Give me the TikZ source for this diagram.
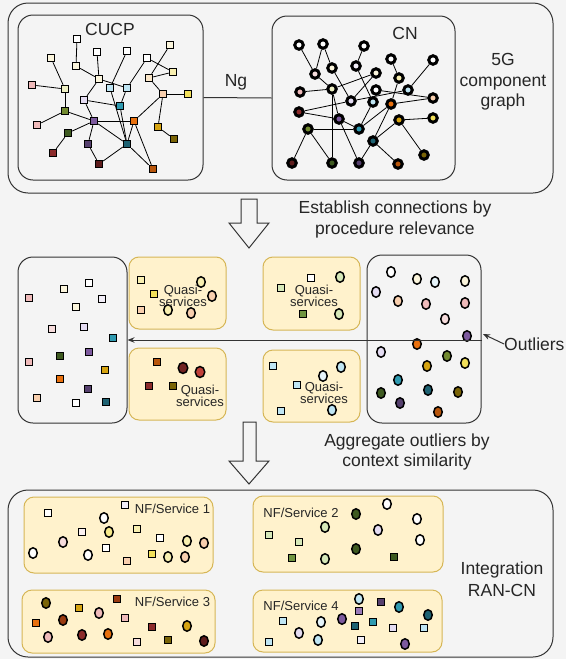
\documentclass[tikz,border=0pt]{standalone}
\usepackage{fontspec}
\setmainfont{Liberation Sans}
\usetikzlibrary{shapes.geometric,arrows.meta}
\definecolor{bg}{HTML}{F4F4F4}
\definecolor{bx}{HTML}{333333}
\definecolor{yf}{HTML}{FFF2CC}
\definecolor{yd}{HTML}{D6B656}
\definecolor{wht}{HTML}{FFFFFF}
\definecolor{crm}{HTML}{FBF5DC}
\definecolor{pcr}{HTML}{FAE6C8}
\definecolor{ygc}{HTML}{EEF0C4}
\definecolor{lyl}{HTML}{F8EFB0}
\definecolor{ylw}{HTML}{F2E05A}
\definecolor{pch}{HTML}{F8CFAE}
\definecolor{pnk}{HTML}{EFBABA}
\definecolor{lpk}{HTML}{F6DCDC}
\definecolor{lav}{HTML}{E4DCF2}
\definecolor{wlv}{HTML}{F2EEF8}
\definecolor{lcy}{HTML}{BFE5F3}
\definecolor{wcy}{HTML}{E6F4FA}
\definecolor{lgr}{HTML}{D6E8B8}
\definecolor{grn}{HTML}{6F9440}
\definecolor{dgr}{HTML}{3E5A20}
\definecolor{olv}{HTML}{728A30}
\definecolor{tel}{HTML}{2F9AB0}
\definecolor{dtl}{HTML}{1E6272}
\definecolor{prp}{HTML}{7D5A9E}
\definecolor{mpr}{HTML}{9A7AB8}
\definecolor{dpr}{HTML}{56406E}
\definecolor{org}{HTML}{E8700E}
\definecolor{gld}{HTML}{D6A412}
\definecolor{dol}{HTML}{7A6406}
\definecolor{drd}{HTML}{8C2B2B}
\definecolor{mrn}{HTML}{5E1C1C}
\definecolor{red}{HTML}{C0403A}
\definecolor{obr}{HTML}{B8560C}
\definecolor{brn}{HTML}{9A3A10}
\tikzset{
  sq/.style={draw=black, line width=1.5pt, rectangle, minimum size=7pt, inner sep=0pt},
  ci/.style={draw=black, line width=1.5pt, ellipse, minimum width=8.5pt, minimum height=10.5pt, inner sep=0pt},
  cnode/.style={draw=black, line width=3pt, circle, minimum size=8.5pt, inner sep=0pt},
  edge/.style={draw=black, line width=0.8pt},
  outerbox/.style={draw=bx, line width=1pt, rounded corners=20pt, rectangle, inner sep=0pt},
  innerbox/.style={draw=bx, line width=1pt, rounded corners=15pt, rectangle, inner sep=0pt},
  ybox/.style={draw=yd, fill=yf, line width=1pt, rounded corners=10pt, rectangle, inner sep=0pt},
  big/.style={font=\fontsize{17.5}{21}\selectfont, align=center, inner sep=0pt, text=black!85},
  small/.style={font=\fontsize{13}{12}\selectfont, align=center, inner sep=0pt, text=black!85},
  blockarrow/.style={draw=bx, fill=bg, line width=1pt, line join=miter},
  conn/.style={draw=bx, line width=1pt}
}
\begin{document}
\begin{tikzpicture}[x=1pt,y=-1pt]
\useasboundingbox (0,0) rectangle (566,659);
\fill[bg] (0,0) rectangle (566,659);

% ---------- top panel ----------
\node[outerbox, minimum width=545pt, minimum height=190pt] (top) at (280.5,98) {};
\node[innerbox, minimum width=185pt, minimum height=165pt] (cucp) at (110.5,97.5) {};
\node[innerbox, minimum width=183pt, minimum height=164pt] (cn) at (363.5,98) {};
\draw[conn] (cucp.east) -- (cn.west);
\node[big] (ng) at (236,82) {Ng};
\node[big] (cucpl) at (110,29) {CUCP};
\node[big] (cnl) at (405,33) {CN};
\node[big, font=\fontsize{17.5}{20.5}\selectfont] (g5) at (503,82) {5G\\component\\graph};

\foreach \x/\y/\c [count=\i] in {77/39/wht,51/58/crm,97/52/wht,127/51/wht,170/45/crm,147/58/wht,76/66/crm,173/72/lyl,149/78/pcr,99/79/crm,32/85/pnk,65/89/ygc,110/88/lcy,127/88/lcy,163/94/pch,188/94/ylw,84/100/lav,120/106/tel,65/111/olv,94/121/prp,134/121/org,37/125/pnk,158/127/gld,68/133/dgr,174/139/dol,88/144/dpr,127/144/dtl,53/153/drd,99/164/mrn,153/169/obr}
  \node[sq, fill=\c] (u\i) at (\x,\y) {};
\foreach \a/\b in {1/7,7/10,3/10,4/13,6/14,6/8,5/9,9/8,2/12,11/12,12/19,10/14,10/17,17/18,14/18,9/15,15/16,15/23,23/25,15/21,19/20,19/22,17/20,20/21,20/24,24/28,20/26,26/29,29/27,20/27,21/27,21/30,27/30,13/27,18/27}
  \draw[edge] (u\a) -- (u\b);

\foreach \x/\y/\c [count=\i] in {299/45/wht,323/44/wht,364/46/wht,391/59/wht,433/60/wht,315/74/lpk,332/68/crm,356/66/wlv,376/73/crm,399/78/lyl,300/92/pnk,332/89/ygc,376/90/wht,408/90/lcy,433/98/pch,351/101/lav,373/102/lcy,391/104/org,299/112/drd,339/119/prp,399/120/gld,433/118/ylw,308/129/olv,359/129/tel,373/141/dtl,424/155/dol,292/163/mrn,332/163/dgr,359/163/dpr,398/164/obr}
  \node[cnode, fill=\c] (c\i) at (\x,\y) {};
\foreach \a/\b in {1/6,2/6,2/7,3/8,4/10,5/14,6/12,7/16,8/17,11/12,12/9,12/20,12/28,9/16,13/15,16/14,10/18,19/16,19/20,18/15,17/24,20/24,20/29,18/24,18/25,21/25,21/22,21/26,23/24,23/27,23/28,25/29,25/30}
  \draw[edge] (c\a) -- (c\b);

% ---------- first arrow ----------
\draw[blockarrow] (241,199) -- (257,199) -- (257,223) -- (269,223) -- (249,248) -- (229,223) -- (241,223) -- cycle;
\node[big] (est) at (395,219) {Establish connections by\\procedure relevance};

% ---------- middle panel ----------
\node[innerbox, minimum width=109pt, minimum height=166pt] (lbox) at (72.5,340) {};
\node[ybox, minimum width=97pt, minimum height=72pt] (qtl) at (177.5,293) {};
\node[ybox, minimum width=97pt, minimum height=72pt] (qbl) at (177.5,384) {};
\node[ybox, minimum width=97pt, minimum height=73pt] (qtr) at (311.5,293.5) {};
\node[ybox, minimum width=97pt, minimum height=72pt] (qbr) at (311.5,386) {};
\node[innerbox, minimum width=114pt, minimum height=168pt] (rbox) at (424,339) {};

\foreach \x/\y/\c [count=\i] in {89/283/wht,64/289/crm,29/298/pnk,102/299/wlv,76/307/crm,52/329/lpk,84/327/lav,113/338/tel,29/362/pnk,60/356/dgr,89/352/prp,105/370/gld,60/379/org,88/389/dpr,37/398/pch,76/403/wht,106/402/dtl}
  \node[sq, fill=\c] (m\i) at (\x,\y) {};

\foreach \x/\y/\c [count=\i] in {141/280/lyl,154/294/ylw,141/310/pch,157/362/obr,149/386/drd,173/386/dol,311/278/wht,281/288/lgr,303/314/grn,273/366/lcy,297/385/lcy,281/411/lcy}
  \node[sq, fill=\c] (qs\i) at (\x,\y) {};
\foreach \x/\y/\c [count=\i] in {201/282/lyl,212/296/pch,168/310/lyl,191/313/pch,340/277/lgr,339/314/lgr,341/367/lcy,323/376/wcy,332/410/lcy}
  \node[ci, fill=\c] (qc\i) at (\x,\y) {};
\node[ci, fill=mrn!80!red, minimum width=9.5pt, minimum height=11pt] (qc10) at (183,368) {};
\node[ci, fill=red, minimum width=9.5pt, minimum height=11pt] (qc11) at (200,372) {};

\node[small] (q1) at (183,296) {Quasi-\\services};
\node[small] (q2) at (200,396) {Quasi-\\services};
\node[small] (q3) at (314,296) {Quasi-\\services};
\node[small] (q4) at (324,393) {Quasi-\\services};

\foreach \x/\y/\c [count=\i] in {391/272/wht,376/292/lav,417/279/crm,435/282/wcy,465/281/crm,398/301/pch,426/304/pnk,465/303/pnk,445/319/lpk,467/336/prp,417/344/org,381/352/lav,447/356/olv,427/366/gld,465/363/ylw,398/380/tel,428/390/dtl,381/393/dgr,458/392/dol,400/403/dpr,438/412/obr}
  \node[ci, fill=\c] (r\i) at (\x,\y) {};

\coordinate (hs) at (482,340);
\draw[conn, -{Stealth[length=7pt,width=5.5pt]}] (hs) -- (lbox.east |- hs);
\node[big, anchor=west] (outl) at (504,344) {Outliers};
\coordinate (ot) at (483,334);
\draw[conn, -{Stealth[length=7pt,width=5.5pt]}] (outl.west) -- (ot);

% ---------- second arrow ----------
\draw[blockarrow] (243,422) -- (256,422) -- (256,461) -- (269,461) -- (249,484) -- (229,461) -- (243,461) -- cycle;
\node[big, font=\fontsize{17.5}{20}\selectfont] (agg) at (407,452) {Aggregate outliers by\\context similarity};

% ---------- bottom panel ----------
\node[outerbox, minimum width=545pt, minimum height=167pt] (bot) at (280.5,573.5) {};
\node[ybox, minimum width=189pt, minimum height=76pt] (nf1) at (118.5,535) {};
\node[ybox, minimum width=193pt, minimum height=63pt] (nf3) at (118.5,621.5) {};
\node[ybox, minimum width=190pt, minimum height=76pt] (nf2) at (348,534) {};
\node[ybox, minimum width=189pt, minimum height=62pt] (nf4) at (347.5,621) {};
\node[big, font=\fontsize{17.5}{22}\selectfont] (integ) at (502,579) {Integration\\RAN-CN};

\node[small] (l1) at (172.5,509) {NF/Service 1};
\node[small] (l3) at (172.5,602) {NF/Service 3};
\node[small] (l2) at (301,513) {NF/Service 2};
\node[small] (l4) at (301,606) {NF/Service 4};

\foreach \x/\y/\c [count=\i] in {48/513/wht,125/505/wlv,82/532/lpk!40,137/529/lyl,160/538/wht,106/548/wht,127/561/pch,152/554/ylw,
  117/599/brn,79/608/gld,36/623/org,125/618/pnk,152/627/drd,137/642/lpk,168/640/dol,
  269/535/lgr,299/542/lgr,292/558/grn,394/557/dgr,
  381/602/dpr,359/611/mpr,283/621/lcy,355/626/dtl,373/622/tel,393/628/lav,424/628/lcy,269/642/lcy,361/640/wlv}
  \node[sq, fill=\c] (b\i) at (\x,\y) {};
\foreach \x/\y/\c [count=\i] in {104/518/wht,109/532/ylw!70,63/542/lpk,33/553/wht,88/555/wht,187/541/lyl,204/543/pch,168/557/lyl,185/557/pch,
  46/603/dol,99/613/pnk,63/620/brn,48/637/pnk,82/635/drd,108/634/org,187/626/gld,204/641/mrn,
  387/504/wht,356/514/dgr,325/527/lgr,417/519/wht,378/530/lav,420/540/wht,356/549/dgr,325/559/lgr,
  359/599/lcy,399/607/tel,342/619/prp,321/622/wcy,428/615/dtl,299/633/lav,318/640/lcy,405/644/prp}
  \node[ci, fill=\c] (bc\i) at (\x,\y) {};
\end{tikzpicture}
\end{document}
